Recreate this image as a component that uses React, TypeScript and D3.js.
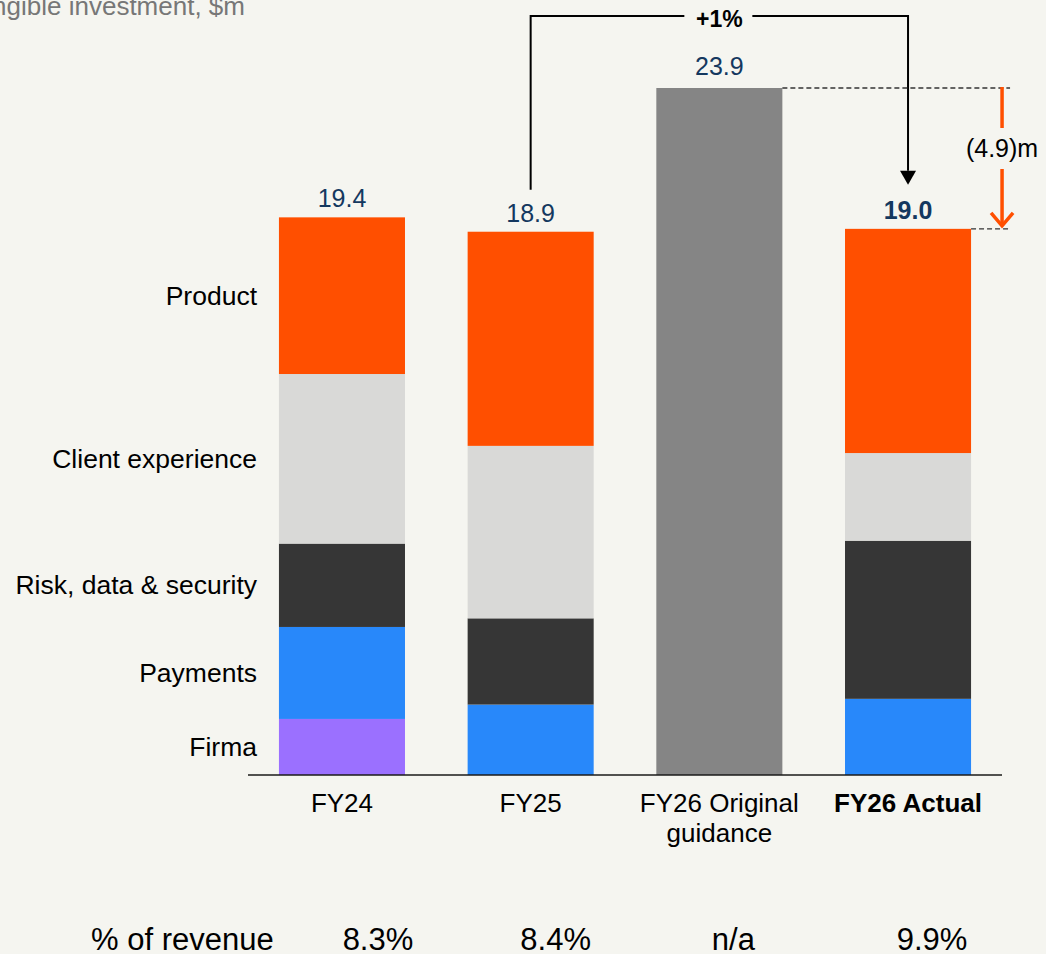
import React, { useEffect } from "react";
import * as d3 from "d3";

// Intangible investment by year, $m
const categories = ["FY24", "FY25", "FY26 Original guidance", "FY26 Actual"];
const segments = ["Firma", "Payments", "Risk, data & security", "Client experience", "Product"];

const firma = [1.95, 0, 0, 0];
const payments = [3.2, 2.45, 0, 2.65];
const risk = [2.9, 3.0, 0, 5.5];
const client = [5.9, 6.0, 0, 3.05];
const product = [5.45, 7.45, 0, 7.8];
const guidance = [0, 0, 23.9, 0];

const totals = [19.4, 18.9, 23.9, 19.0];
const totalLabels = ["19.4", "18.9", "23.9", "19.0"];
const revenueShare = ["8.3%", "8.4%", "n/a", "9.9%"];
const growthLabel = "+1%";
const gapLabel = "(4.9)m";

const W = 1046;
const H = 954;
const FONT = "'Liberation Sans', Arial, Helvetica, sans-serif";

const segColors: Record<string, string> = {
  Firma: "#9b70ff",
  Payments: "#2888fa",
  "Risk, data & security": "#363636",
  "Client experience": "#d9d9d7",
  Product: "#ff4f00",
  Guidance: "#858585",
};

const NAVY = "#14385f";
const ORANGE = "#ff4f00";
const BG = "#f5f5f0";

export default function App() {
  useEffect(() => {
    document.body.style.margin = "0";
    document.body.style.background = BG;
  }, []);

  const x = d3
    .scaleBand<string>()
    .domain(categories)
    .range([248, 1002])
    .paddingInner(0.332)
    .paddingOuter(0.164);

  const y = d3.scaleLinear().domain([0, 23.9]).range([775, 88]);

  const rows = categories.map((c, i) => ({
    cat: c,
    Firma: firma[i],
    Payments: payments[i],
    "Risk, data & security": risk[i],
    "Client experience": client[i],
    Product: product[i],
    Guidance: guidance[i],
  }));

  const keys = [...segments, "Guidance"];
  const stacked = d3.stack<any>().keys(keys)(rows);

  const bw = x.bandwidth();
  const cx = (c: string) => (x(c) as number) + bw / 2;

  // FY24 segment midpoints place the side labels
  const fy24 = stacked.map((s) => ({ key: s.key, y0: s[0][0], y1: s[0][1] }));

  const xFY25 = cx(categories[1]);
  const xGuide = cx(categories[2]);
  const xAct = cx(categories[3]);
  const guideRight = (x(categories[2]) as number) + bw;
  const actRight = (x(categories[3]) as number) + bw;

  const bracketY = 16;
  const leftBottom = y(totals[1]) - 42;
  const arrowTip = y(totals[3]) - 44;

  const gapX = actRight + 31;
  const dashEnd = actRight + 39;
  const yTop = y(totals[2]);
  const yAct = y(totals[3]);

  const pctNudge = [36, 25, 14, 24];

  return (
    <svg
      width={W}
      height={H}
      style={{ position: "absolute", left: 0, top: 0, display: "block", background: BG }}
      fontFamily={FONT}
    >
      <rect width={W} height={H} fill={BG} />

      <text x={245} y={15} fontSize={26} fill="#777777" textAnchor="end">
        Intangible investment, $m
      </text>

      {/* stacked bars */}
      {stacked.map((s) => (
        <g key={s.key} fill={segColors[s.key]}>
          {s.map((d, i) =>
            d[1] - d[0] > 0 ? (
              <rect
                key={i}
                x={x(categories[i])}
                width={bw}
                y={y(d[1])}
                height={y(d[0]) - y(d[1])}
              />
            ) : null
          )}
        </g>
      ))}

      {/* baseline */}
      <line x1={x.range()[0]} x2={x.range()[1]} y1={775} y2={775} stroke="#1a1a1a" strokeWidth={1.6} />

      {/* totals */}
      {categories.map((c, i) => (
        <text
          key={c}
          x={cx(c)}
          y={y(totals[i]) - (i === 2 ? 13 : 10)}
          textAnchor="middle"
          fontSize={25}
          fontWeight={i === 3 ? "bold" : "normal"}
          fill={NAVY}
        >
          {totalLabels[i]}
        </text>
      ))}

      {/* segment labels */}
      {fy24
        .filter((s) => s.y1 - s.y0 > 0)
        .map((s) => (
          <text
            key={s.key}
            x={257}
            y={(y(s.y0) + y(s.y1)) / 2 + 9}
            textAnchor="end"
            fontSize={26.5}
            fill="#000"
          >
            {s.key}
          </text>
        ))}

      {/* category labels */}
      {categories.map((c, i) => {
        const lines = i === 2 ? ["FY26 Original", "guidance"] : [c];
        return (
          <text
            key={c}
            x={cx(c)}
            textAnchor="middle"
            fontSize={26}
            fontWeight={i === 3 ? "bold" : "normal"}
            fill="#000"
          >
            {lines.map((l, j) => (
              <tspan key={j} x={cx(c)} y={812 + j * 30}>
                {l}
              </tspan>
            ))}
          </text>
        );
      })}

      {/* % of revenue row */}
      <text x={91} y={950} fontSize={31} fill="#000">
        % of revenue
      </text>
      {categories.map((c, i) => (
        <text key={c} x={cx(c) + pctNudge[i]} y={950} fontSize={31} textAnchor="middle" fill="#000">
          {revenueShare[i]}
        </text>
      ))}

      {/* growth bracket FY25 -> FY26 Actual */}
      <path
        d={`M${xFY25},${leftBottom} V${bracketY} H${xGuide - 35} M${xGuide + 33},${bracketY} H${xAct} V${arrowTip - 14}`}
        fill="none"
        stroke="#000"
        strokeWidth={2}
      />
      <path d={`M${xAct - 8},${arrowTip - 14} L${xAct + 8},${arrowTip - 14} L${xAct},${arrowTip} Z`} fill="#000" />
      <text x={xGuide} y={27} textAnchor="middle" fontSize={23} fontWeight="bold" fill="#000">
        {growthLabel}
      </text>

      {/* shortfall vs guidance */}
      <line
        x1={guideRight}
        x2={dashEnd}
        y1={yTop}
        y2={yTop}
        stroke="#333"
        strokeWidth={1.3}
        strokeDasharray="5,3"
      />
      <line
        x1={actRight}
        x2={dashEnd}
        y1={yAct}
        y2={yAct}
        stroke="#333"
        strokeWidth={1.3}
        strokeDasharray="5,3"
      />
      <line x1={gapX} x2={gapX} y1={yTop - 1} y2={128} stroke={ORANGE} strokeWidth={3.5} />
      <line x1={gapX} x2={gapX} y1={169} y2={yAct - 3} stroke={ORANGE} strokeWidth={3.5} />
      <path
        d={`M${gapX - 11},${yAct - 16} L${gapX},${yAct - 3} L${gapX + 11},${yAct - 16}`}
        fill="none"
        stroke={ORANGE}
        strokeWidth={3.5}
      />
      <text x={gapX} y={157} textAnchor="middle" fontSize={25} fill="#000">
        {gapLabel}
      </text>
    </svg>
  );
}
